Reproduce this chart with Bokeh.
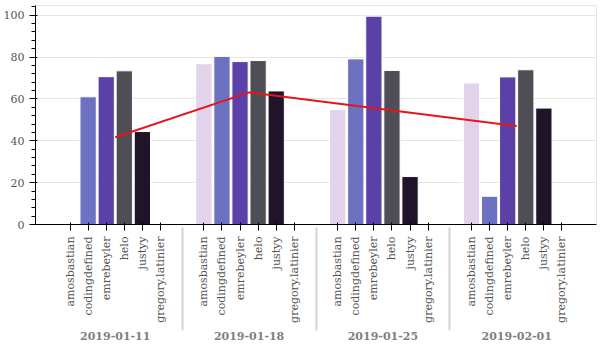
from bokeh.plotting import figure
from bokeh.models import FactorRange, Range1d, ColumnDataSource
from bokeh.transform import factor_cmap
from bokeh.embed import file_html
from bokeh.resources import INLINE

dates = ["2019-01-11", "2019-01-18", "2019-01-25", "2019-02-01"]
names = ["amosbastian", "codingdefined", "emrebeyler", "helo", "justyy", "gregory.latinier"]

amosbastian = [0, 76.8, 54.9, 67.6]
codingdefined = [61.0, 80.3, 79.1, 13.5]
emrebeyler = [70.6, 77.8, 99.5, 70.5]
helo = [73.4, 78.3, 73.6, 73.9]
justyy = [44.4, 63.8, 22.9, 55.6]
gregory_latinier = [0, 0, 0, 0]

line_values = [41.7, 63.1, 55.1, 47.0]

colors = ["#e3d3ea", "#6c71c2", "#5b40a8", "#4f4d56", "#1f1429", "#1f1429"]

series = [amosbastian, codingdefined, emrebeyler, helo, justyy, gregory_latinier]
x = []
counts = []
for i, d in enumerate(dates):
    for j, n in enumerate(names):
        x.append((d, n))
        counts.append(series[j][i])

source = ColumnDataSource(data=dict(x=x, counts=counts))

p = figure(x_range=FactorRange(*x, range_padding=0.1), y_range=Range1d(0, 104.6),
           width=600, height=350, output_backend="svg", toolbar_location=None,
           min_border_left=5, min_border_right=4, min_border_top=5, min_border_bottom=5)

p.vbar(x="x", top="counts", width=0.9, source=source, line_color="white",
       fill_color=factor_cmap("x", palette=colors, factors=names, start=1, end=2))

p.line(x=dates, y=line_values, line_color="#e4151b", line_width=2)

font = "'DejaVu Serif', serif"
p.xgrid.grid_line_color = None
p.xaxis.major_label_orientation = 3.14159265 / 2
p.xaxis.major_label_text_font = font
p.yaxis.major_label_text_font = font
p.xaxis.major_label_text_font_size = "11px"
p.yaxis.major_label_text_font_size = "11px"
p.xaxis.major_label_text_color = "#555555"
p.yaxis.major_label_text_color = "#555555"
p.xaxis.major_label_standoff = 6
p.xaxis.group_text_font = font
p.xaxis.group_text_font_size = "11px"
p.xaxis.axis_label = " "
p.xaxis.axis_label_text_font_size = "4px"
p.xaxis.axis_label_standoff = 0

open("out.html", "w").write(file_html(p, INLINE))
